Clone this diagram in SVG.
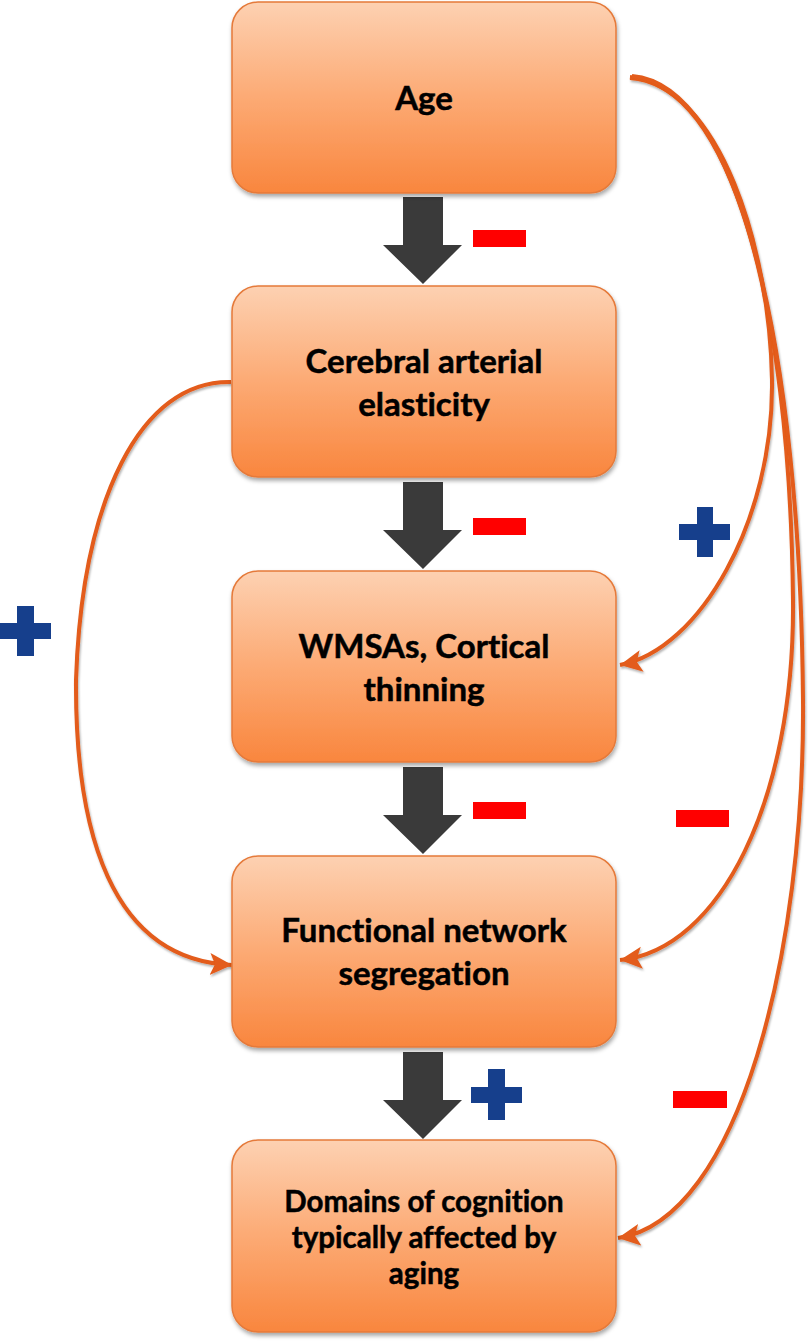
<svg xmlns="http://www.w3.org/2000/svg" width="810" height="1342" viewBox="0 0 810 1342">
<defs>
<linearGradient id="boxGrad" x1="0" y1="0" x2="0" y2="1">
<stop offset="0" stop-color="#fdd1b2"/>
<stop offset="0.5" stop-color="#fcaa74"/>
<stop offset="1" stop-color="#f9863e"/>
</linearGradient>
<filter id="shadow" x="-10%" y="-10%" width="120%" height="125%">
<feDropShadow dx="1" dy="3" stdDeviation="2" flood-color="#000" flood-opacity="0.35"/>
</filter>
<filter id="lshadow" x="-20%" y="-5%" width="140%" height="110%">
<feDropShadow dx="1" dy="2" stdDeviation="1.2" flood-color="#000" flood-opacity="0.3"/>
</filter>
<marker id="tri" markerUnits="userSpaceOnUse" markerWidth="26" markerHeight="24" refX="22" refY="11" orient="auto">
<path d="M0,0 L22,11 L0,22 L5,11 Z" fill="#e35b1a"/>
</marker>
<style>
.box{fill:url(#boxGrad);stroke:#e57a3a;stroke-width:1.5;filter:url(#shadow)}
.lbl{font-family:Lato,"Liberation Sans",sans-serif;font-weight:bold;font-size:33px;fill:#000;text-anchor:middle;font-variant-ligatures:none;stroke:#000;stroke-width:0.5}
.sm{font-size:29.5px}
.conn{fill:none;stroke:#e35b1a;stroke-width:4;marker-end:url(#tri)}
.down{fill:#3a3a3a}
.minus{fill:#ff0000}
.plus{fill:#163f8c}
</style>
</defs>

<g id="connectors" filter="url(#lshadow)">
<path class="conn" d="M630,78 C720,85 770,250 772,380 C774,520 700,650 620,665"/>
<path class="conn" d="M630,77 C730,85 790,300 793,600 C795,800 720,950 620,960"/>
<path class="conn" d="M632,76 C740,85 800,350 803,700 C805,950 740,1220 618,1238"/>
<path class="conn" d="M231,382 C140,380 82,500 76,680 C75,830 110,960 232,965"/>
</g>

<g id="down-arrows">
<polygon class="down" points="403,197 443,197 443,245 462,245 423,284 383,245 403,245"/>
<polygon class="down" points="403,482 443,482 443,530 462,530 423,569 383,530 403,530"/>
<polygon class="down" points="403,767 443,767 443,815 462,815 423,854 383,815 403,815"/>
<polygon class="down" points="403,1052 443,1052 443,1100 462,1100 423,1139 383,1100 403,1100"/>
</g>

<g id="node-age">
<rect class="box" x="232" y="2" width="384" height="191" rx="26"/>
<text class="lbl" x="424" y="110">Age</text>
</g>
<g id="node-elasticity">
<rect class="box" x="232" y="286" width="384" height="191" rx="26"/>
<text class="lbl" x="424" y="373">Cerebral arterial</text>
<text class="lbl" x="424" y="416">elasticity</text>
</g>
<g id="node-wmsa">
<rect class="box" x="232" y="571" width="384" height="191" rx="26"/>
<text class="lbl" x="424" y="658">WMSAs, Cortical</text>
<text class="lbl" x="424" y="701">thinning</text>
</g>
<g id="node-segregation">
<rect class="box" x="232" y="856" width="384" height="191" rx="26"/>
<text class="lbl" x="424" y="942">Functional network</text>
<text class="lbl" x="424" y="985">segregation</text>
</g>
<g id="node-cognition">
<rect class="box" x="232" y="1140" width="384" height="192" rx="26"/>
<text class="lbl sm" x="424" y="1212">Domains of cognition</text>
<text class="lbl sm" x="424" y="1248">typically affected by</text>
<text class="lbl sm" x="424" y="1284">aging</text>
</g>

<g id="signs">
<rect class="minus" x="473" y="230" width="53" height="17"/>
<rect class="minus" x="473" y="518" width="53" height="17"/>
<rect class="minus" x="473" y="802" width="53" height="17"/>
<rect class="minus" x="676" y="810" width="53" height="17"/>
<rect class="minus" x="673" y="1091" width="54" height="17"/>
<path class="plus" d="M697,507 H713 V524 H730 V540 H713 V557 H697 V540 H679 V524 H697 Z"/>
<path class="plus" d="M17,606 H34 V623 H51 V639 H34 V656 H17 V639 H0 V623 H17 Z"/>
<path class="plus" d="M488,1069 H505 V1087 H522 V1103 H505 V1120 H488 V1103 H471 V1087 H488 Z"/>
</g>
</svg>
